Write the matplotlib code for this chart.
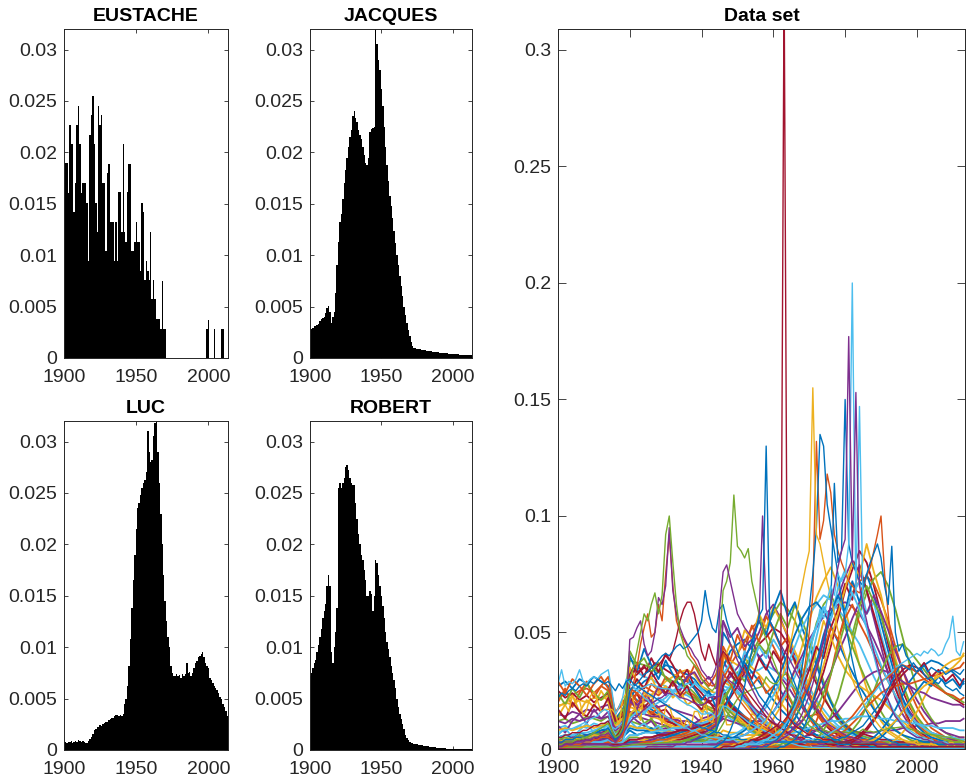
import numpy as np
import matplotlib.pyplot as plt

# yearly axis of the histograms and of the highlighted names, and a coarser
# two-year axis for the background names of the data set
YEARS = list(range(1900, 2014))
YEARS2 = list(range(1900, 2013, 2)) + [2013]

# ---- four example names, share per year, in units of 1e-4 ----
EUSTACHE = [190, 190, 190, 160, 227, 208, 208, 142, 170, 227,
            245, 208, 160, 170, 170, 170, 151, 94, 217, 236,
            255, 208, 151, 123, 245, 227, 236, 170, 170, 104,
            180, 189, 132, 132, 132, 94, 132, 94, 161, 161,
            123, 208, 123, 113, 161, 189, 189, 104, 104, 113,
            132, 113, 113, 85, 151, 142, 76, 94, 85, 76,
            123, 57, 76, 57, 38, 38, 38, 28, 75, 28,
            28] + [0] * 28 + [28, 37, 0, 0, 0, 28, 0, 0, 0, 0, 28, 28, 0, 0, 0]

JACQUES = [29, 28, 29, 31, 31, 32, 33, 36, 38, 39,
           40, 44, 49, 51, 45, 34, 40, 45, 63, 90,
           113, 132, 140, 155, 170, 183, 195, 205, 215, 222,
           235, 240, 233, 230, 222, 217, 213, 205, 197, 190,
           188, 195, 220, 223, 224, 225, 320, 305, 290, 280,
           262, 245, 225, 205, 188, 172, 158, 148, 136, 124,
           112, 100, 90, 80, 70, 60, 50, 42, 34, 27,
           21, 16, 12, 10, 10, 9, 9, 9, 8, 8,
           8, 8, 7, 7, 7, 7, 6, 6, 6, 6,
           6, 5, 5, 5, 5, 5, 5, 4, 4, 4,
           4, 4, 4, 4, 4, 3, 3, 3, 3, 3,
           3, 3, 3, 3]

LUC = [8, 8, 7, 8, 8, 9, 7, 8, 9, 8,
       10, 9, 8, 9, 8, 7, 7, 9, 11, 13,
       16, 19, 20, 22, 22, 24, 23, 25, 26, 27,
       27, 29, 30, 31, 31, 33, 34, 34, 33, 34,
       33, 35, 45, 50, 62, 82, 108, 138, 165, 190,
       215, 235, 240, 248, 255, 260, 263, 270, 310, 290,
       280, 282, 305, 318, 325, 290, 260, 230, 200, 170,
       145, 125, 110, 100, 82, 75, 72, 72, 74, 72,
       73, 70, 74, 72, 74, 85, 75, 76, 72, 75,
       80, 85, 87, 90, 91, 93, 95, 90, 85, 82,
       80, 70, 68, 65, 62, 60, 58, 55, 52, 50,
       45, 42, 38, 33]

ROBERT = [72, 75, 80, 85, 88, 95, 102, 110, 118, 128,
          135, 142, 160, 170, 160, 95, 85, 100, 115, 138,
          255, 260, 255, 260, 265, 275, 277, 272, 265, 260,
          258, 258, 240, 225, 210, 200, 190, 185, 175, 165,
          150, 150, 155, 152, 135, 150, 185, 182, 170, 160,
          150, 140, 128, 115, 105, 98, 90, 82, 75, 68,
          60, 50, 42, 35, 30, 25, 20, 15, 12, 10,
          8, 7, 7, 6, 6, 6, 5, 5, 5, 5,
          4, 4, 4, 4, 3, 3, 3, 3, 3, 2,
          2, 2, 2, 2, 2, 2, 1, 1, 1, 1] + [1] * 14

NAMES = ['EUSTACHE', 'JACQUES', 'LUC', 'ROBERT']
HISTS = [EUSTACHE, JACQUES, LUC, ROBERT]

# ---- data set: background names on YEARS2, units of 1e-3 ----
OLD_NAMES = [
    [27, 29, 26, 30, 28, 31, 29, 27, 13, 17, 24, 21, 19, 17, 15, 13, 11, 10, 8, 7,
     5, 4, 4, 4, 3, 2, 2, 1, 1, 1, 1, 1],
    [22, 24, 23, 25, 26, 24, 27, 25, 12, 15, 20, 18, 17, 16, 14, 12, 11, 9, 8, 7,
     6, 5, 4, 4, 3, 3, 2, 2, 1, 1, 1, 1, 1, 1],
    [18, 20, 19, 21, 20, 22, 21, 23, 11, 14, 18, 17, 15, 14, 13, 11, 10, 9, 8, 6,
     5, 4, 4, 3, 3, 2, 2, 2, 1, 1, 1],
    [15, 14, 16, 15, 17, 16, 18, 19, 9, 11, 16, 14, 13, 12, 11, 10, 9, 8, 7, 6,
     5, 4, 3, 3, 3, 2, 2, 2, 1, 1, 1, 1, 1],
    [12, 13, 11, 12, 14, 13, 12, 14, 7, 9, 12, 11, 10, 9, 8, 8, 7, 6, 5, 5,
     4, 3, 3, 3, 2, 2, 1, 1, 1, 1],
    [9, 10, 8, 10, 9, 11, 10, 12, 6, 7, 10, 9, 9, 8, 7, 7, 6, 5, 5, 4,
     4, 3, 3, 3, 2, 2, 2, 1, 1, 1, 1, 1, 1, 1, 1],
    [25, 22, 24, 21, 23, 20, 22, 24, 12, 16, 22, 19, 18, 15, 14, 12, 11, 9, 8, 7,
     6, 5, 5, 4, 3, 3, 2, 2, 2, 1, 1, 1],
    [5, 6, 5, 7, 6, 7, 8, 9, 4, 6, 9, 8, 8, 7, 7, 6, 6, 5, 5, 4,
     4, 3, 3, 4, 3, 3, 2, 2, 2, 2, 2, 1, 1, 1, 1, 1, 1, 1, 1],
    [20, 26, 18, 24, 29, 22, 27, 31, 15, 21, 19, 24, 17, 15, 18, 12, 14, 9, 10, 7,
     8, 5, 6, 4, 4, 3, 2, 2, 1, 1],
    [14, 19, 23, 16, 21, 18, 25, 20, 10, 13, 22, 16, 19, 13, 15, 11, 9, 10, 6, 7,
     5, 4, 5, 3, 2, 2, 1, 1],
    [10, 7, 12, 15, 11, 17, 13, 16, 8, 12, 15, 12, 10, 12, 8, 9, 7, 6, 5, 4,
     4, 3, 2, 2, 1, 1, 1],
    [24, 19, 26, 22, 28, 24, 21, 25, 11, 17, 14, 17, 11, 13, 9, 10, 7, 8, 5, 5,
     4, 3, 3, 2, 2, 1, 1],
    [6, 9, 5, 8, 11, 7, 10, 8, 5, 6, 12, 9, 11, 8, 10, 7, 8, 6, 6, 5,
     5, 4, 4, 5, 3, 3, 2, 2, 2, 1, 1, 1],
    [17, 13, 20, 16, 14, 19, 16, 22, 12, 14, 20, 24, 18, 21, 16, 17, 13, 12, 10, 9,
     7, 6, 6, 5, 4, 3, 3, 2, 2, 1, 1],
    [2, 4, 3, 6, 4, 5, 7, 6, 3, 5, 8, 6, 7, 9, 6, 7, 5, 6, 4, 4,
     3, 3, 3, 4, 3, 2, 2, 2, 1, 1, 1, 1],
    [29, 24, 30, 27, 23, 28, 31, 26, 16, 19, 26, 20, 23, 18, 17, 14, 12, 11, 9, 8,
     6, 5, 4, 4, 3, 3, 2, 1, 1],
    [8, 9, 8, 9, 10, 9, 10, 11, 5, 7, 10, 9, 9, 8, 8, 8, 7, 7, 7, 6,
     5, 5, 5, 8, 7, 7, 6, 6, 6, 5, 5, 5, 4, 4, 4, 4, 3, 3, 3, 3,
     3, 3, 3, 3, 3, 3, 3, 3, 3, 3, 3, 4, 4, 4, 4, 4, 5, 5],
    [12, 11, 13, 12, 13, 14, 13, 14, 8, 10, 16, 15, 15, 14, 14, 13, 13, 12, 12, 11,
     10, 10, 10, 14, 14, 13, 13, 12, 12, 11, 11, 10, 10, 9, 9, 8, 8, 8, 7, 7,
     7, 7, 7, 7, 7, 8, 8, 8, 9, 9, 10, 10, 11, 11, 12, 12, 12, 13],
    [3, 4, 3, 4, 4, 3, 4, 4, 2, 3, 5, 5, 4, 5, 5, 4, 4, 4, 4, 3,
     3, 3, 3, 5, 5, 4, 4, 4, 4, 3, 3, 3, 3, 3, 2, 2, 2, 2, 2, 2,
     2, 2, 2, 2, 2, 2, 2, 2, 2, 2, 2, 2, 2, 2, 2, 2, 2, 2],
]

INTERWAR_NAMES = [
    [5, 6, 6, 7, 7, 8, 9, 10, 6, 9, 34, 33, 31, 30, 28, 27, 25, 24, 23, 21,
     17, 15, 14, 15, 13, 11, 9, 7, 6, 5, 4, 3, 3, 2, 2, 1, 1, 1, 1, 1, 1],
    [3, 4, 4, 5, 5, 6, 7, 8, 5, 8, 30, 32, 35, 33, 36, 34, 32, 30, 29, 26,
     22, 20, 18, 19, 16, 13, 11, 9, 7, 5, 4, 3, 2, 2, 1, 1, 1, 1],
    [1, 1, 2, 2, 2, 3, 3, 4, 3, 6, 22, 26, 29, 31, 33, 36, 35, 33, 32, 30,
     26, 24, 22, 24, 20, 17, 14, 11, 9, 7, 6, 4, 3, 2, 2, 1, 1, 1, 1],
    [2, 2, 3, 3, 4, 4, 5, 6, 4, 7, 26, 24, 27, 25, 23, 26, 24, 22, 25, 23,
     19, 17, 16, 20, 18, 16, 14, 12, 10, 8, 7, 6, 5, 4, 3, 3, 2, 2, 1, 1, 1, 1, 1],
    [0, 0, 1, 1, 1, 1, 2, 2, 2, 4, 15, 18, 20, 23, 26, 29, 31, 33, 34, 32,
     27, 25, 24, 29, 27, 24, 20, 16, 13, 10, 8, 6, 4, 3, 2, 2, 1, 1, 1, 1, 1],
    [4, 4, 5, 5, 6, 6, 7, 7, 5, 8, 20, 19, 21, 20, 18, 19, 17, 16, 15, 14,
     11, 10, 10, 13, 12, 11, 10, 9, 8, 7, 6, 5, 4, 4, 3, 3, 2, 2, 2, 2] + [1] * 18,
    [2, 3, 3, 4, 4, 5, 6, 7, 5, 9, 38, 37, 36, 35, 33, 31, 29, 28, 27, 24,
     20, 18, 17, 19, 16, 13, 10, 8, 6, 5, 4, 3, 2, 2, 1, 1, 1],
    [1, 1, 1, 2, 2, 2, 3, 3, 3, 5, 12, 14, 16, 18, 20, 22, 25, 27, 28, 29,
     25, 23, 21, 27, 26, 24, 21, 18, 15, 12, 9, 7, 5, 4, 3, 2, 2, 1, 1, 1, 1],
    [2, 3, 2, 4, 3, 4, 5, 4, 3, 6, 28, 37, 31, 39, 33, 41, 36, 30, 34, 27,
     24, 20, 22, 25, 18, 15, 12, 9, 7, 5, 4, 3, 2, 2, 1, 1],
    [1, 2, 2, 3, 2, 3, 4, 5, 3, 7, 40, 33, 43, 36, 30, 38, 32, 27, 31, 26,
     21, 25, 18, 26, 20, 16, 13, 10, 8, 6, 4, 3, 2, 2, 1, 1, 1],
    [0, 1, 1, 1, 2, 2, 2, 3, 2, 4, 18, 24, 21, 28, 25, 31, 27, 34, 29, 36,
     30, 27, 32, 41, 35, 30, 24, 19, 15, 11, 8, 6, 4, 3, 2, 2, 1, 1, 1],
    [3, 4, 4, 5, 5, 6, 6, 7, 5, 9, 35, 29, 26, 31, 24, 27, 22, 25, 19, 21,
     16, 18, 14, 21, 17, 14, 11, 9, 7, 6, 4, 3, 3, 2, 2, 1, 1, 1],
    [1, 1, 2, 2, 3, 3, 4, 4, 3, 6, 21, 17, 25, 20, 27, 23, 29, 25, 31, 33,
     28, 31, 26, 38, 32, 28, 22, 17, 13, 10, 7, 5, 4, 3, 2, 2, 1, 1, 1],
    [4, 5, 4, 6, 5, 7, 6, 8, 5, 10, 42, 36, 39, 33, 37, 30, 28, 31, 24, 22,
     19, 17, 15, 18, 14, 12, 10, 8, 6, 5, 4, 3, 2, 2, 1, 1],
    [0, 0, 1, 1, 1, 2, 2, 2, 2, 3, 13, 16, 15, 19, 22, 20, 24, 27, 25, 28,
     26, 22, 24, 30, 28, 25, 21, 18, 14, 11, 9, 7, 5, 4, 3, 2, 2, 1, 1, 1, 1],
    [2, 2, 3, 3, 4, 4, 5, 5, 4, 7, 24, 30, 26, 33, 28, 24, 29, 23, 27, 20,
     17, 21, 16, 24, 19, 16, 13, 10, 8, 6, 5, 4, 3, 2, 2, 1, 1, 1],
]

POSTWAR_NAMES = [
    [0, 0, 0, 0, 1, 1, 1, 1, 1, 1, 2, 2, 3, 3, 4, 5, 6, 7, 8, 10,
     9, 10, 12, 35, 42, 45, 47, 43, 40, 35, 30, 25, 20, 15, 11, 8, 6, 5, 4, 3,
     2, 2, 2, 1, 1, 1, 1, 1, 1, 1] + [1] * 8,
    [0, 0, 0, 0, 0, 0, 0, 1, 1, 1, 1, 2, 2, 2, 3, 3, 4, 5, 6, 7,
     8, 9, 10, 30, 36, 41, 46, 52, 55, 50, 44, 38, 31, 24, 18, 13, 9, 7, 5, 4,
     3, 3, 2, 2, 2, 1, 1, 1, 1, 1] + [1] * 8,
    [0, 0, 0, 1, 1, 1, 1, 1, 1, 2, 3, 3, 4, 4, 5, 6, 7, 8, 9, 11,
     12, 13, 15, 40, 38, 36, 39, 35, 32, 28, 24, 20, 16, 12, 9, 7, 5, 4, 3, 3,
     2, 2, 2, 2, 2, 2, 1, 1, 1, 1] + [1] * 8,
    [1, 1, 1, 1, 1, 2, 2, 2, 1, 2, 4, 4, 5, 5, 6, 7, 7, 8, 9, 10,
     11, 12, 14, 28, 31, 35, 40, 44, 50, 58, 62, 56, 48, 40, 32, 24, 18, 13, 9, 7,
     5, 4, 3, 3, 2, 2, 2, 2, 1, 1] + [1] * 8,
    [0] * 10 + [1, 1, 1, 1, 2, 2, 2, 3, 3, 4,
     5, 6, 7, 22, 26, 30, 35, 41, 47, 52, 58, 63, 60, 55, 47, 38, 30, 23, 17, 12,
     9, 7, 5, 4, 3, 3, 2, 2, 2, 2] + [2] * 8,
    [2, 2, 2, 3, 3, 3, 3, 4, 2, 3, 6, 6, 7, 7, 8, 8, 9, 9, 10, 11,
     11, 12, 13, 24, 27, 30, 31, 33, 34, 36, 34, 32, 29, 26, 23, 19, 16, 13, 11, 9,
     8, 7, 6, 5, 5, 4, 4, 4, 3, 3] + [3] * 8,
    [0, 0, 0, 0, 0, 0, 1, 1, 1, 1, 2, 2, 2, 3, 3, 3, 4, 4, 5, 6,
     7, 8, 9, 18, 22, 27, 33, 38, 45, 48, 52, 50, 45, 38, 30, 22, 16, 11, 8, 6,
     4, 3, 3, 2, 2, 2, 1, 1, 1, 1] + [1] * 8,
    [1, 1, 1, 1, 1, 1, 1, 1, 1, 2, 3, 3, 3, 4, 4, 5, 5, 6, 6, 7,
     8, 9, 10, 50, 45, 40, 37, 33, 29, 25, 21, 17, 14, 11, 9, 7, 6, 5, 4, 3,
     3, 2, 2, 2, 2, 2, 2, 1, 1, 1] + [1] * 8,
    [0] * 8 + [1, 1, 2, 2, 3, 3, 4, 4, 5, 6, 7, 8, 9, 11, 12, 44, 38, 49, 42, 53, 46, 57,
               51, 44, 48, 37, 30, 24, 17, 12, 9, 7, 5, 4, 3, 3, 2, 2, 2, 1, 1, 1],
    [0] * 10 + [1, 1, 2, 2, 3, 3, 4, 5, 6, 7, 9, 11, 13, 38, 45, 40, 51, 47, 58, 52,
                61, 55, 49, 42, 35, 27, 20, 15, 11, 8, 6, 5, 4, 3, 3, 2, 2, 2, 1, 1],
    [1] * 10 + [2, 3, 3, 4, 5, 6, 7, 8, 9, 11, 13, 14, 16, 55, 48, 52, 44, 47, 39, 42,
                35, 31, 27, 22, 18, 14, 11, 8, 6, 5, 4, 3, 3, 2, 2, 2, 1, 1, 1, 1],
    [0] * 12 + [1, 1, 2, 2, 3, 3, 4, 5, 6, 7, 9, 20, 26, 33, 29, 38, 45, 41,
                50, 58, 52, 62, 55, 47, 38, 29, 21, 15, 11, 8, 6, 5, 4, 3, 3, 2, 2, 2],
    [0] * 10 + [1, 2, 2, 3, 3, 4, 5, 5, 6, 8, 10, 12, 14, 32, 37, 31, 42, 36, 44, 39,
                47, 42, 36, 40, 33, 26, 21, 17, 13, 10, 8, 6, 5, 4, 3, 3, 2, 2, 2, 2],
    [2] * 10 + [4, 4, 5, 5, 6, 6, 7, 8, 8, 9, 10, 11, 13, 27, 33, 28, 36, 30, 39, 34,
                42, 37, 44, 38, 31, 35, 28, 22, 17, 13, 10, 8, 7, 6, 5, 4, 4, 3, 3, 3] + [3] * 8,
    [0] * 14 + [1, 1, 2, 2, 3, 4, 5, 6, 8, 16, 23, 30, 38, 46, 55, 49,
                60, 68, 57, 63, 52, 44, 36, 27, 20, 14, 10, 7, 5, 4, 3, 3, 2, 2, 1, 1],
    [1] * 10 + [2, 2, 3, 3, 4, 4, 5, 5, 6, 7, 8, 9, 11, 41, 36, 30, 34, 27, 31, 24,
                27, 20, 23, 17, 19, 14, 15, 11, 9, 7, 6, 5, 4, 4, 3, 3, 2, 2, 2, 2] + [2] * 8,
]

BOOMER_NAMES = [
    [0] * 19 + [1, 1, 1, 1, 2, 2, 3, 4, 5, 7, 9, 13, 18, 25, 34, 44, 55, 65, 72, 78, 70,
                60, 48, 36, 26, 18, 12, 8, 6, 4, 3, 2, 2, 2, 1, 1, 1, 1, 1],
    [0] * 18 + [1, 1, 1, 1, 1, 1, 2, 2, 3, 3, 4, 5, 7, 9, 12, 16, 22, 29, 37, 46, 56, 65,
                74, 81, 76, 68, 56, 44, 32, 22, 15, 10, 7, 5, 4, 3, 3, 2, 2, 2],
    [0] * 23 + [1, 1, 1, 2, 2, 3, 4, 6, 9, 14, 21, 30, 41, 54, 62, 66, 60,
                52, 44, 36, 29, 22, 16, 11, 8, 6, 4, 3, 3, 2, 2, 2, 2, 1, 1],
    [1] * 10 + [2, 2, 2, 2, 2, 2, 2, 2, 3, 3, 3, 3, 3, 5, 6, 7, 9, 11, 14, 18,
                23, 29, 36, 44, 52, 58, 62, 66, 64, 60, 56, 50, 45, 38, 31, 25, 19, 14, 10, 7,
                5, 4, 4, 3, 3, 3, 3, 3],
    [0] * 24 + [1, 1, 1, 1, 2, 2, 3, 4, 6, 8, 12, 17, 24, 33, 44, 56,
                68, 77, 85, 80, 70, 58, 45, 34, 25, 18, 13, 9, 7, 5, 4, 3, 3, 3],
    [0] * 18 + [1, 1, 1, 1, 2, 3, 4, 6, 8, 11, 15, 20, 26, 33, 41, 49, 56, 61, 63, 59, 53, 46,
                39, 33, 27, 22, 17, 13, 10, 8, 6, 5, 4, 3, 3, 2, 2, 2, 2, 2],
    [0] * 32 + [1, 2, 4, 7, 12, 20, 32, 46, 58, 67, 72, 74, 71, 64, 55, 44, 34, 25,
                18, 13, 9, 7, 5, 4, 3, 3],
    [0] * 26 + [1, 1, 1, 2, 3, 5, 8, 13, 20, 30, 42, 55, 48, 40,
                34, 30, 27, 25, 23, 21, 18, 15, 12, 9, 7, 5, 4, 3, 3, 2, 2, 2],
    [0] * 16 + [1, 1, 1, 1, 1, 2, 2, 3, 4, 5, 6, 8, 10, 13, 16, 21, 27, 34, 40, 47, 52, 57, 60, 62,
                63, 61, 58, 53, 47, 40, 33, 27, 21, 16, 12, 9, 7, 6, 5, 4, 4, 4],
    [0] * 34 + [1, 2, 4, 8, 14, 22, 33, 45, 58, 67, 73, 76, 70, 60, 48, 36,
                26, 18, 13, 9, 7, 5, 4, 4],
    [0] * 24 + [1, 1, 2, 2, 3, 4, 6, 8, 11, 16, 24, 35, 48, 61, 55, 69,
                77, 66, 72, 58, 63, 49, 38, 28, 20, 14, 10, 7, 5, 4, 3, 3, 2, 2],
    [0] * 22 + [1, 1, 2, 2, 3, 3, 4, 5, 7, 10, 14, 19, 26, 34, 44, 39, 52, 60,
                71, 64, 79, 68, 58, 47, 36, 26, 18, 12, 8, 6, 4, 3, 3, 2, 2, 2],
    [0] * 26 + [1, 1, 2, 3, 4, 6, 9, 13, 19, 27, 37, 49, 58, 66,
                59, 72, 63, 75, 66, 54, 42, 31, 22, 15, 10, 7, 5, 4, 3, 3, 2, 2],
    [0] * 20 + [1, 1, 1, 2, 2, 3, 3, 4, 5, 6, 8, 10, 13, 17, 22, 28, 35, 43, 52, 47,
                56, 62, 54, 48, 41, 35, 29, 23, 18, 14, 11, 8, 6, 5, 4, 3, 3, 3],
    [0] * 28 + [1, 1, 2, 3, 5, 8, 12, 18, 26, 36, 47, 58,
                69, 80, 74, 88, 76, 66, 52, 39, 28, 19, 13, 9, 6, 5, 4, 3, 3, 3],
    [0] * 24 + [1, 1, 1, 2, 2, 3, 4, 5, 7, 9, 12, 16, 21, 27, 33, 41,
                48, 56, 63, 58, 66, 59, 51, 42, 34, 27, 21, 16, 12, 9, 7, 6, 5, 5],
    [0] * 30 + [1, 2, 3, 5, 8, 12, 17, 24, 32, 43, 54, 49, 61, 70, 63, 57, 47, 37, 28, 20,
                14, 10, 7, 5, 4, 3, 3, 2],
    [0] * 18 + [1, 1, 1, 2, 2, 3, 4, 5, 6, 8, 10, 13, 16, 20, 25, 31, 38, 45, 53, 61, 56, 64,
                58, 67, 60, 52, 44, 36, 29, 23, 18, 14, 11, 9, 7, 6, 5, 5, 4, 4],
]

RECENT_NAMES = [
    [0] * 37 + [1, 1, 2, 3, 4, 6, 9, 13, 18, 24, 30, 34, 36, 35, 32, 29, 27, 24, 22, 20, 19],
    [0] * 40 + [1, 1, 2, 3, 5, 8, 12, 17, 23, 29, 33, 36, 38, 37, 35, 33, 30, 28],
    [1] * 35 + [2, 2, 3, 4, 6, 8, 11, 14, 18, 21, 24, 26, 27, 28, 28,
                29, 30, 31, 32, 33, 34, 35, 37],
    [0] * 44 + [1, 1, 2, 4, 7, 11, 16, 22, 28, 33, 36, 38, 39, 40],
    [2, 2, 2, 2, 2, 2, 2, 2, 1, 2, 2, 2, 2, 2, 2, 2, 2, 2, 2, 2,
     2, 2, 2, 3, 3, 3, 3, 3, 3, 3, 3, 3, 4, 4, 5, 6, 8, 10, 13, 16,
     20, 24, 28, 31, 33, 34, 33, 31, 29, 27, 25, 24, 22, 21, 20, 19, 19, 18],
    [0] * 36 + [1, 1, 2, 3, 5, 8, 12, 18, 25, 33, 40, 44, 45, 42,
                38, 34, 30, 27, 24, 22, 21, 20],
    [0, 0, 0, 0, 1, 1, 1, 1, 0, 1] + [1] * 16 + [2, 2, 2, 3,
     4, 5, 6, 7, 8, 9, 10, 11, 12, 12, 13, 13, 14, 14, 14, 13, 13, 12, 12, 11,
     11, 10, 10, 9, 9, 9, 8, 8],
    [0] * 38 + [1, 1, 2, 3, 5, 8, 12, 17, 23, 28, 32, 35, 33, 37, 31, 34, 29, 32, 27, 30],
    [0] * 42 + [1, 2, 3, 5, 8, 12, 16, 21, 25, 29, 27, 31, 28, 30, 26, 29],
    [0] * 33 + [1, 1, 2, 3, 4, 6, 8, 11, 14, 18, 22, 25, 29, 31, 34, 36, 35,
                33, 30, 28, 26, 24, 23, 21, 22],
    [0] * 40 + [1, 1, 2, 3, 4, 6, 9, 12, 16, 20, 24, 27, 29, 31, 33, 35, 38, 41],
]

# ---- data set: names that stand out, on YEARS, units of 1e-3 ----
PEAK_1963 = [0] * 46 + [1, 1, 1, 1, 2, 2, 3, 3, 4, 4, 5, 6, 7, 8,
                        9, 10, 12, 330, 14, 12, 10, 9, 8, 7, 6, 6, 5, 5, 4, 4, 4, 3, 3, 3,
                        3, 3, 2, 2, 2, 2, 2, 2, 2, 1] + [1] * 24
PEAK_1982 = [0] * 48 + [1, 1, 1, 1, 1, 2, 2, 2, 3, 3, 4, 5,
                        6, 7, 8, 10, 12, 15, 18, 22, 27, 33, 40, 47, 52, 60, 56, 64, 70, 66, 75, 72,
                        75, 88, 200, 66, 147, 60, 52, 45, 40, 34, 29, 25, 21, 18, 15, 13, 11, 9, 8, 7,
                        6, 5, 5, 4, 4, 3, 3, 3, 3, 2, 2, 2, 2, 2]
PEAK_1981 = [0] * 54 + [1, 1, 1, 1, 2, 2, 3, 3, 4, 5, 6, 8, 10, 12, 15, 19,
                        23, 28, 34, 40, 47, 55, 62, 70, 78, 85, 90, 177, 80, 153, 70, 62, 55, 48, 42, 36,
                        30, 25, 21, 17, 14, 12, 10, 8, 7, 6, 5, 5, 4, 4, 3, 3, 3, 3, 2, 2,
                        2, 2, 2, 2]
PEAK_1971 = [0] * 45 + [1, 1, 1, 1, 2, 2, 3, 3, 4, 5, 6, 8, 10, 12, 15,
                        19, 23, 28, 34, 40, 47, 55, 62, 70, 78, 85, 155, 92, 88, 80, 72, 65, 58, 51, 45,
                        40, 35, 30, 26, 23, 20, 17, 15, 13, 11, 9, 8, 7, 6, 5, 4, 4, 3, 3, 3,
                        2, 2, 2, 2, 2, 2, 1, 1, 1, 1, 1, 1, 1, 1]
PEAK_1958 = [0] * 44 + [1, 2, 3, 5, 8, 12, 16, 21, 27, 35, 42, 50, 57, 60, 130, 55,
                        52, 48, 44, 40, 36, 32, 28, 24, 20, 17, 14, 12, 10, 8, 7, 6, 5, 4, 4, 3,
                        3, 3, 2, 2, 2, 2, 2, 1, 1, 1] + [1] * 24
PEAK_1973 = [0] * 56 + [1, 1, 1, 2, 3, 4, 6, 8, 11, 15, 20, 27, 35, 45,
                        60, 75, 95, 135, 130, 105, 95, 85, 75, 65, 55, 46, 38, 31, 25, 20, 16, 13, 10, 8,
                        6, 5, 4, 3, 3, 2, 2, 2, 1, 1] + [1] * 14
PEAK_1972 = [0] * 55 + [1, 1, 1, 2, 2, 3, 4, 5, 7, 9, 12, 16, 21, 28, 38,
                        50, 66, 132, 90, 98, 118, 110, 92, 85, 80, 76, 72, 70, 68, 67, 70, 74, 78, 85, 92,
                        100, 75, 58, 44, 33, 25, 19, 14, 11, 9, 7, 6, 5, 5, 4, 4, 3, 3, 3, 2,
                        2, 2, 2, 2]
PEAK_1980 = [0] * 62 + [1, 1, 2, 3, 4, 6, 8, 11, 15, 20, 26, 33, 42, 52, 62, 114, 80, 85,
                        150, 88, 80, 76, 72, 70, 75, 80, 84, 88, 82, 70, 62, 87, 50, 42, 45, 40, 38, 35,
                        33, 35, 32, 30, 31, 29, 28, 30, 27, 26, 25, 26, 24, 23]
PEAK_1949 = [2, 2, 3, 3, 3, 4, 4, 5, 5, 6, 7, 8, 9, 10, 11, 8, 5, 6, 9, 20,
             30, 35, 42, 50, 58, 55, 62, 67, 58, 66, 92, 100, 80, 62, 50, 45, 40, 38, 36, 34,
             30, 28, 26, 25, 27, 45, 68, 72, 80, 109, 87, 85, 82, 86, 72, 65, 58, 52, 47, 42,
             38, 34, 30, 27, 24, 21, 18, 16, 14, 12, 10, 9, 8, 7, 6, 5, 5, 4, 4, 3,
             3, 3, 2, 2, 2, 2, 2, 2, 1, 1] + [1] * 24
PEAK_1931 = [1, 1, 1, 2, 2, 2, 2, 3, 3, 3, 4, 4, 5, 5, 5, 4, 3, 4, 6, 12,
             22, 28, 35, 45, 52, 58, 48, 50, 62, 55, 75, 92, 70, 55, 50, 47, 44, 40, 38, 35,
             32, 30, 28, 27, 28, 35, 33, 30, 28, 25, 22, 20, 18, 16, 14, 12, 11, 10, 9, 8,
             7, 6, 6, 5, 5, 4, 4, 3, 3, 3, 2, 2, 2, 2, 2, 2, 1, 1, 1, 1] + [1] * 34
PEAK_1921 = [1, 1, 2, 2, 2, 3, 3, 3, 4, 4, 5, 5, 6, 6, 7, 5, 3, 5, 8, 15,
             47, 48, 52, 55, 45, 40, 42, 50, 65, 62, 70, 95, 68, 58, 52, 48, 45, 43, 40, 38,
             34, 32, 30, 31, 35, 50, 55, 50, 45, 42, 38, 35, 32, 29, 26, 23, 20, 18, 16, 14,
             12, 10, 9, 8, 7, 6, 5, 5, 4, 4, 3, 3, 3, 2, 2, 2, 2, 2, 1, 1] + [1] * 34
PEAK_1937 = [5, 5, 6, 6, 7, 7, 7, 8, 8, 9, 10, 10, 11, 11, 12, 8, 5, 7, 10, 20,
             32, 35, 33, 34, 36, 33, 35, 37, 36, 38, 40, 38, 42, 48, 55, 60, 63, 63, 58, 50,
             42, 38, 45, 40, 36, 38, 42, 40, 36, 33, 30, 28, 26, 24, 22, 20, 18, 16, 14, 12,
             11, 10, 9, 8, 7, 6, 6, 5, 5, 4, 4, 3, 3, 3, 3, 2, 2, 2, 2, 2,
             2, 2, 1, 1, 1, 1, 1, 1, 1, 1] + [1] * 24
PEAK_1941 = [3, 3, 4, 4, 4, 5, 5, 5, 6, 6, 7, 7, 8, 8, 9, 6, 4, 6, 8, 15,
             25, 27, 28, 30, 32, 33, 35, 36, 38, 40, 41, 40, 42, 44, 45, 43, 44, 46, 48, 50,
             55, 68, 58, 52, 50, 60, 62, 55, 50, 46, 42, 38, 35, 32, 29, 26, 23, 21, 19, 17,
             15, 13, 12, 11, 10, 9, 8, 7, 6, 5, 5, 4, 4, 4, 3, 3, 3, 3, 2, 2,
             2, 2, 2, 2, 2, 2, 2, 2, 2, 2, 2, 2, 2, 1, 1, 1, 1, 1, 1, 1] + [1] * 14
PEAK_1957 = [0] * 25 + [1, 1, 1, 1, 1, 1, 1, 1, 2, 2, 2, 3, 3, 4, 5,
                        6, 7, 8, 9, 10, 60, 76, 79, 72, 65, 58, 55, 52, 50, 48, 52, 55, 100, 60, 55,
                        52, 48, 45, 42, 40, 37, 34, 31, 28, 25, 22, 19, 17, 15, 13, 11, 10, 9, 8, 7,
                        6, 5, 5, 4, 4, 3, 3, 3, 3, 2] + [2] * 12 + [1] * 12
PEAK_2010 = [28, 34, 27, 29, 28, 30, 34, 29, 28, 30, 31, 30, 32, 33, 34, 25, 15, 18, 22, 30,
             28, 27, 25, 24, 22, 21, 19, 18, 16, 15, 14, 13, 12, 11, 10, 9, 9, 8, 8, 7,
             6, 6, 5, 5, 5, 5, 4, 4, 4, 4, 3, 3, 3, 3, 3, 3, 3, 3, 3, 3,
             3, 3, 3, 3, 3, 3, 3, 3, 3, 4, 4, 4, 5, 5, 6, 6, 7, 8, 9, 10,
             11, 12, 13, 14, 16, 18, 20, 22, 24, 26, 28, 30, 32, 33, 35, 36, 37, 38, 39, 40,
             41, 40, 42, 41, 43, 42, 40, 41, 45, 48, 57, 42, 40, 46]
STEADY_BLUE = [22, 24, 23, 25, 26, 25, 27, 28, 27, 29, 28, 30, 29, 28, 29, 27, 25, 28, 26, 29,
               30, 28, 27, 26, 25, 24, 23, 22, 21, 20, 19, 18, 17, 16, 15, 14, 13, 12, 11, 10,
               9, 9, 8, 8, 7, 7, 6, 6, 5, 5, 5, 4, 4, 4, 4, 3, 3, 3, 3, 3,
               3, 3, 3, 3, 3, 3, 3, 3, 3, 3, 3, 3, 3, 3, 3, 3, 4, 4, 4, 5,
               5, 6, 7, 8, 9, 10, 12, 14, 16, 18, 20, 23, 26, 29, 32, 35, 36, 35, 34, 37,
               35, 34, 36, 33, 35, 34, 33, 34, 32, 33, 34, 33, 32, 34]

# MATLAB default line colours
BLUE, ORANGE, YELLOW, PURPLE = '#0072BD', '#D95319', '#EDB120', '#7E2F8E'
GREEN, LIGHTBLUE, DARKRED = '#77AC30', '#4DBEEE', '#A2142F'
CYCLE = [BLUE, ORANGE, YELLOW, PURPLE, GREEN, LIGHTBLUE, DARKRED]

HIGHLIGHTS = [PEAK_1931, PEAK_1921, PEAK_1937, PEAK_1941, PEAK_1949, PEAK_1957,
              PEAK_2010, STEADY_BLUE, PEAK_1958, PEAK_1972, PEAK_1973, PEAK_1971,
              PEAK_1980, PEAK_1982, PEAK_1981, PEAK_1963]
HIGHLIGHT_COLORS = [ORANGE, PURPLE, DARKRED, BLUE, GREEN, PURPLE,
                    LIGHTBLUE, BLUE, BLUE, ORANGE, BLUE, YELLOW,
                    BLUE, LIGHTBLUE, PURPLE, DARKRED]

plt.rcParams['font.family'] = ['Liberation Sans', 'DejaVu Sans']
TXT = '#262626'

fig = plt.figure(figsize=(9.67, 7.82), dpi=100)
W, H = 967.0, 782.0


def frame(ax, ticklen):
    ax.tick_params(direction='in', length=ticklen, width=0.6, top=True, right=True,
                   labelsize=14, colors=TXT)
    ax.tick_params(axis='x', pad=8)
    ax.tick_params(axis='y', pad=5)
    for sp in ax.spines.values():
        sp.set_color(TXT)
        sp.set_linewidth(0.7)
    ax.set_axisbelow(True)


# small histogram panels: (left, right, top, bottom) in pixels
boxes = [(64, 228, 29, 358), (310, 472, 29, 358), (64, 228, 421, 750), (310, 472, 421, 750)]
small_ticks = [0, 0.005, 0.01, 0.015, 0.02, 0.025, 0.03]
small_labels = ['0', '0.005', '0.01', '0.015', '0.02', '0.025', '0.03']
for name, vals, (l, r, t, b) in zip(NAMES, HISTS, boxes):
    ax = fig.add_axes([l / W, 1 - b / H, (r - l) / W, (b - t) / H])
    ax.bar(YEARS, np.array(vals) * 1e-4, width=1.0, color='black', linewidth=0)
    ax.set_xlim(1900, 2013.5)
    ax.set_ylim(0, 0.032)
    ax.set_xticks([1900, 1950, 2000])
    ax.set_yticks(small_ticks)
    ax.set_yticklabels(small_labels)
    ax.set_title(name, fontsize=14, fontweight='bold', pad=6)
    frame(ax, 3.0)

# large data set panel
ax = fig.add_axes([558 / W, 1 - 749 / H, (965 - 558) / W, (749 - 29) / H])
groups = OLD_NAMES + INTERWAR_NAMES + POSTWAR_NAMES + BOOMER_NAMES + RECENT_NAMES
for i, s in enumerate(groups):
    ax.plot(YEARS2, np.array(s + [0] * (len(YEARS2) - len(s))) * 1e-3,
            color=CYCLE[i % len(CYCLE)], lw=1.3)
for i, vals in enumerate(HISTS):
    ax.plot(YEARS, np.array(vals) * 1e-4, color=CYCLE[(i + 2) % len(CYCLE)], lw=1.0)
for s, c in zip(HIGHLIGHTS, HIGHLIGHT_COLORS):
    ax.plot(YEARS, np.array(s) * 1e-3, color=c, lw=1.0)
ax.set_xlim(1900, 2013.4)
ax.set_ylim(0, 0.309)
ax.set_xticks(range(1900, 2001, 20))
ax.set_yticks([0, 0.05, 0.1, 0.15, 0.2, 0.25, 0.3])
ax.set_yticklabels(['0', '0.05', '0.1', '0.15', '0.2', '0.25', '0.3'])
ax.set_title('Data set', fontsize=14, fontweight='bold', pad=6)
frame(ax, 5.5)

fig.savefig('out.png', dpi=100)
